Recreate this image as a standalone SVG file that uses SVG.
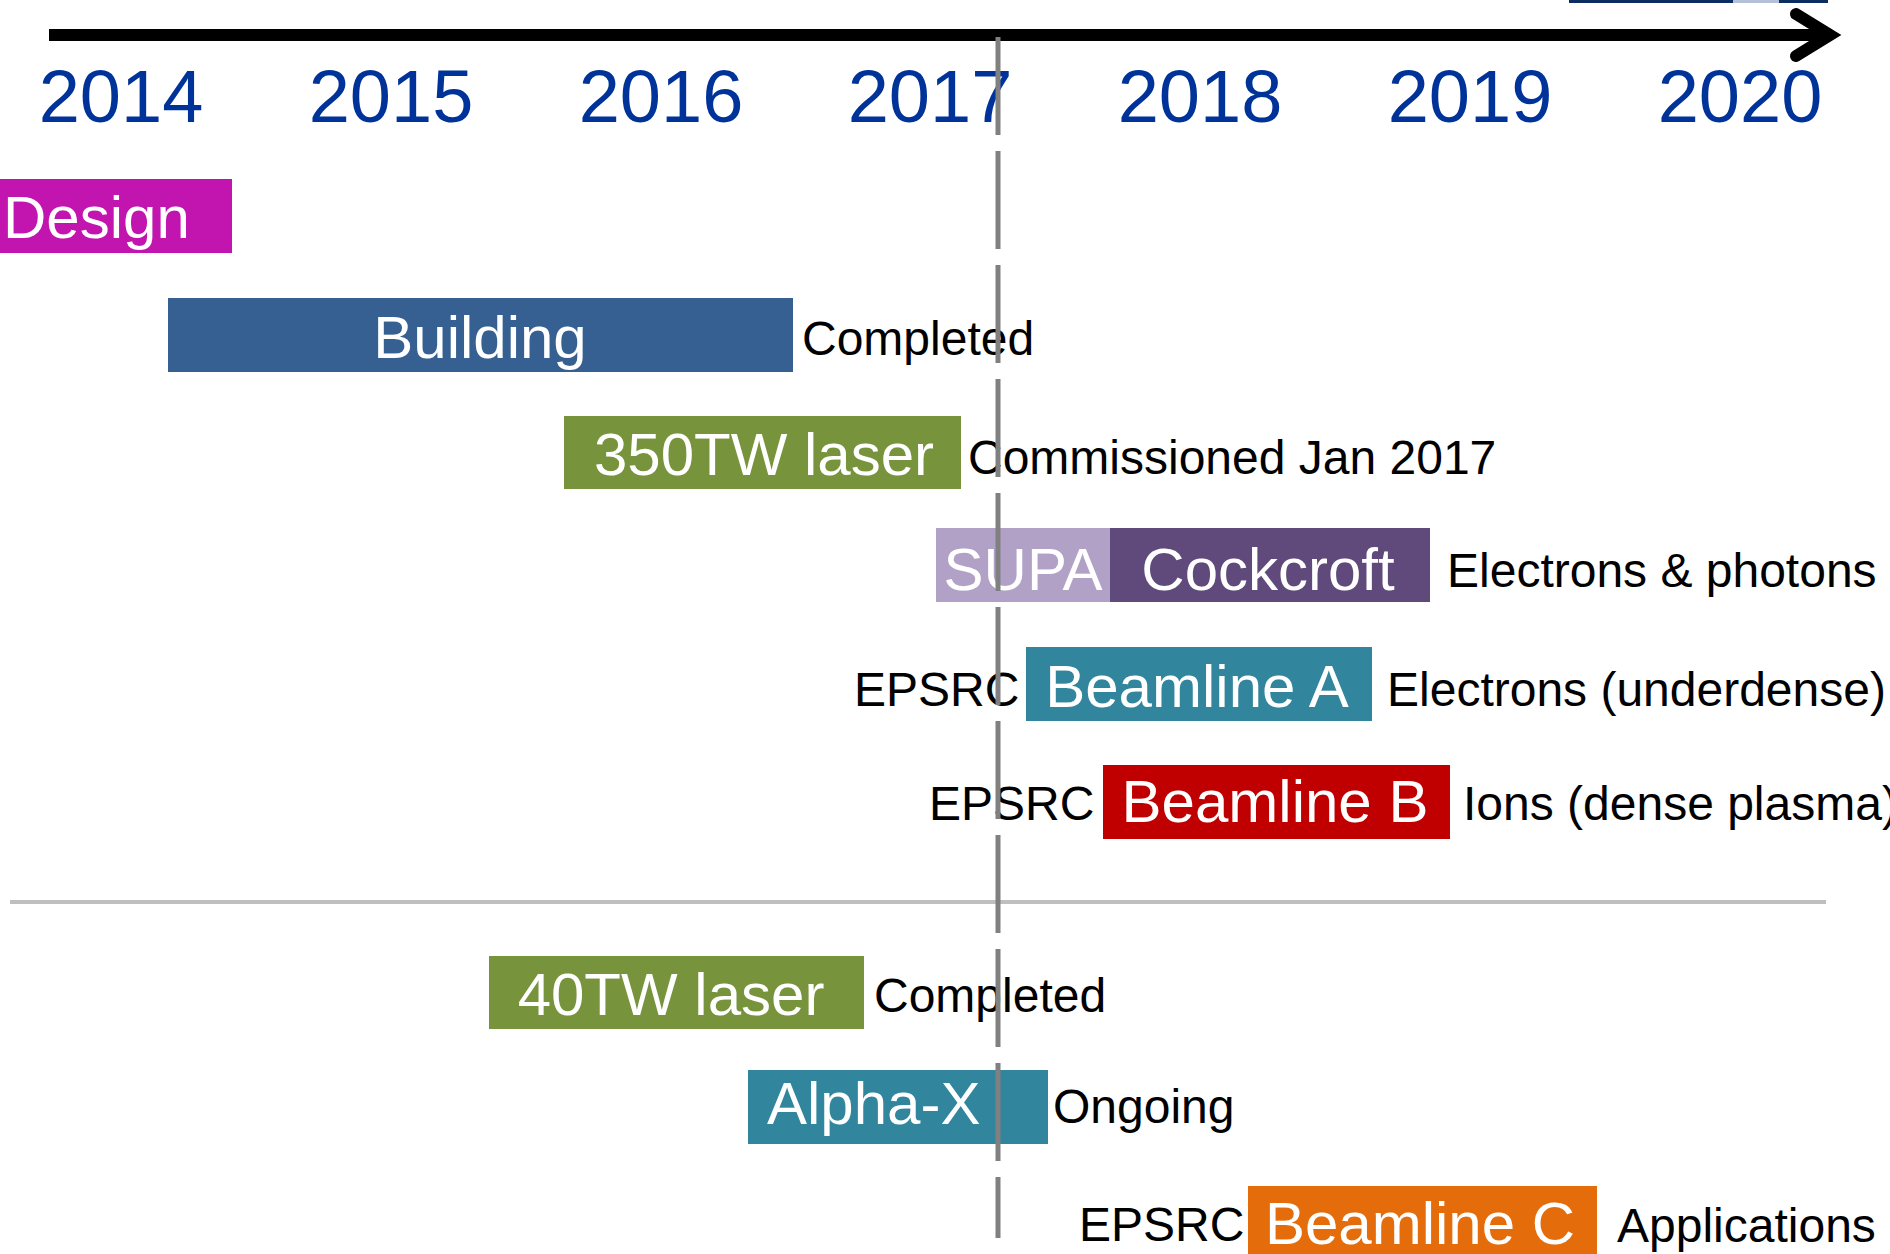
<svg xmlns="http://www.w3.org/2000/svg" width="1890" height="1254" viewBox="0 0 1890 1254">
<style>
text{font-family:"Liberation Sans",Arial,sans-serif}
.yr{font-size:74px;fill:#003399;text-anchor:middle}
.bt{font-size:60px;fill:#ffffff}
.c{text-anchor:middle}
.lb{font-size:48px;fill:#000000}
</style>
<rect width="1890" height="1254" fill="#ffffff"/>
<g id="top-strip">
<rect x="1569" y="0" width="259" height="3" fill="#0B2D62"/>
<rect x="1733" y="0" width="46" height="3" fill="#B4C0D6"/>
</g>
<g id="years">
<text class="yr" x="121" y="122">2014</text>
<text class="yr" x="391" y="122">2015</text>
<text class="yr" x="661" y="122">2016</text>
<text class="yr" x="930" y="122">2017</text>
<text class="yr" x="1200" y="122">2018</text>
<text class="yr" x="1470" y="122">2019</text>
<text class="yr" x="1740" y="122">2020</text>
</g>
<g id="separator">
<line x1="10" y1="902" x2="1826" y2="902" stroke="#BFBFBF" stroke-width="4"/>
</g>
<g id="design">
<rect x="0" y="179" width="232" height="74" fill="#C214AE"/>
<text class="bt" x="3" y="238">Design</text>
</g>
<g id="building">
<rect x="168" y="298" width="625" height="74" fill="#376092"/>
<text class="bt c" x="480" y="358">Building</text>
<text class="lb" x="802" y="355">Completed</text>
</g>
<g id="laser350">
<rect x="564" y="416" width="397" height="73" fill="#77933C"/>
<text class="bt c" x="764" y="475">350TW laser</text>
<text class="lb" x="968" y="474">Commissioned Jan 2017</text>
</g>
<g id="supa-cockcroft">
<rect x="936" y="528" width="174" height="74" fill="#B2A1C7"/>
<rect x="1110" y="528" width="320" height="74" fill="#604A7B"/>
<text class="bt c" x="1023" y="590">SUPA</text>
<text class="bt c" x="1268" y="590">Cockcroft</text>
<text class="lb" x="1447" y="587">Electrons &amp; photons</text>
</g>
<g id="beamline-a">
<text class="lb" x="854" y="706">EPSRC</text>
<rect x="1026" y="647" width="346" height="74" fill="#31859C"/>
<text class="bt c" x="1197" y="707">Beamline A</text>
<text class="lb" x="1387" y="706">Electrons (underdense)</text>
</g>
<g id="beamline-b">
<text class="lb" x="929" y="820">EPSRC</text>
<rect x="1103" y="765" width="347" height="74" fill="#C00000"/>
<text class="bt c" x="1275" y="822">Beamline B</text>
<text class="lb" x="1463" y="820">Ions (dense plasma)</text>
</g>
<g id="laser40">
<rect x="489" y="956" width="375" height="73" fill="#77933C"/>
<text class="bt c" x="671" y="1015">40TW laser</text>
<text class="lb" x="874" y="1012">Completed</text>
</g>
<g id="alpha-x">
<rect x="748" y="1070" width="300" height="74" fill="#31859C"/>
<text class="bt" x="767" y="1124">Alpha-X</text>
<text class="lb" x="1053" y="1123">Ongoing</text>
</g>
<g id="beamline-c">
<text class="lb" x="1079" y="1241">EPSRC</text>
<rect x="1248" y="1186" width="349" height="74" fill="#E46C0A"/>
<text class="bt c" x="1420" y="1244">Beamline C</text>
<text class="lb" x="1617" y="1242">Applications</text>
</g>
<g id="connectors">
<line x1="49" y1="35" x2="1832" y2="35" stroke="#000000" stroke-width="12"/>
<polyline points="1796,14 1830,35 1796,56" fill="none" stroke="#000000" stroke-width="12" stroke-linecap="round" stroke-linejoin="miter"/>
<line x1="998" y1="37" x2="998" y2="1238" stroke="#808080" stroke-width="5" stroke-dasharray="98 16"/>
</g>
</svg>
